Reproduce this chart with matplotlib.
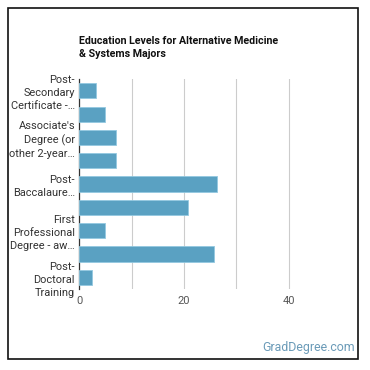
import matplotlib.pyplot as plt
from matplotlib.patches import Rectangle

plt.rcParams['font.family'] = ['Roboto', 'DejaVu Sans']

# education levels, top to bottom
categories = [
    "Post-Secondary Certificate - less than 1 year",
    "Post-Secondary Certificate - 1 to 4 years",
    "Associate's Degree (or other 2-year degree)",
    "Bachelor's Degree",
    "Post-Baccalaureate Certificate",
    "Master's Degree",
    "First Professional Degree - awarded",
    "Doctorate Degree",
    "Post-Doctoral Training",
]
percent = [3.2, 5.0, 7.1, 7.1, 26.3, 20.8, 5.0, 25.8, 2.5]

# only every other label is shown on the chart (truncated as in the original)
tick_labels = [
    "Post-\nSecondary\nCertificate -\u2026",
    "",
    "Associate's\nDegree (or\nother 2-year\u2026",
    "",
    "Post-\nBaccalaure\u2026",
    "",
    "First\nProfessional\nDegree - aw\u2026",
    "",
    "Post-\nDoctoral\nTraining",
]
x_ticks = [0, 20, 40]

fig = plt.figure(figsize=(3.7, 3.7), dpi=100)
ax = fig.add_axes([0.2143, 0.219, 0.708, 0.567])

y = list(range(len(categories)))
ax.barh(y, percent, height=0.65, color='#5aa1c2', edgecolor='#93c9e0', linewidth=0.6, zorder=3)

ax.set_ylim(len(categories) - 0.5, -0.5)
ax.set_xlim(0, 50)
ax.set_yticks(y)
ax.set_yticklabels(tick_labels, fontsize=7.9, color='#333333', linespacing=1.35)
ax.set_xticks(x_ticks)
ax.set_xticklabels([str(t) for t in x_ticks], fontsize=7.9, color='#555555')
ax.set_xticks([10, 30], minor=True)
ax.tick_params(axis='both', which='both', length=0)
ax.tick_params(axis='y', pad=3)
ax.tick_params(axis='x', pad=5)

ax.grid(axis='x', which='both', color='#cccccc', linewidth=0.8, zorder=0)
for side in ['top', 'right', 'bottom']:
    ax.spines[side].set_visible(False)
ax.spines['left'].set_color('#333333')
ax.spines['left'].set_linewidth(0.9)

fig.text(0.2143, 0.902, "Education Levels for Alternative Medicine\n& Systems Majors",
         fontsize=7.7, fontweight='bold', color='#111111', ha='left', va='top',
         linespacing=1.4)

fig.text(0.958, 0.06, "GradDegree.com", fontsize=8.9, color='#6b9bb8', ha='right', va='center')

# outer frame
fig.patches.append(Rectangle((8 / 370, 11 / 370), 350 / 370, 351 / 370,
                             transform=fig.transFigure, fill=False,
                             edgecolor='#111111', linewidth=1.2))

fig.savefig('out.png', dpi=100)
